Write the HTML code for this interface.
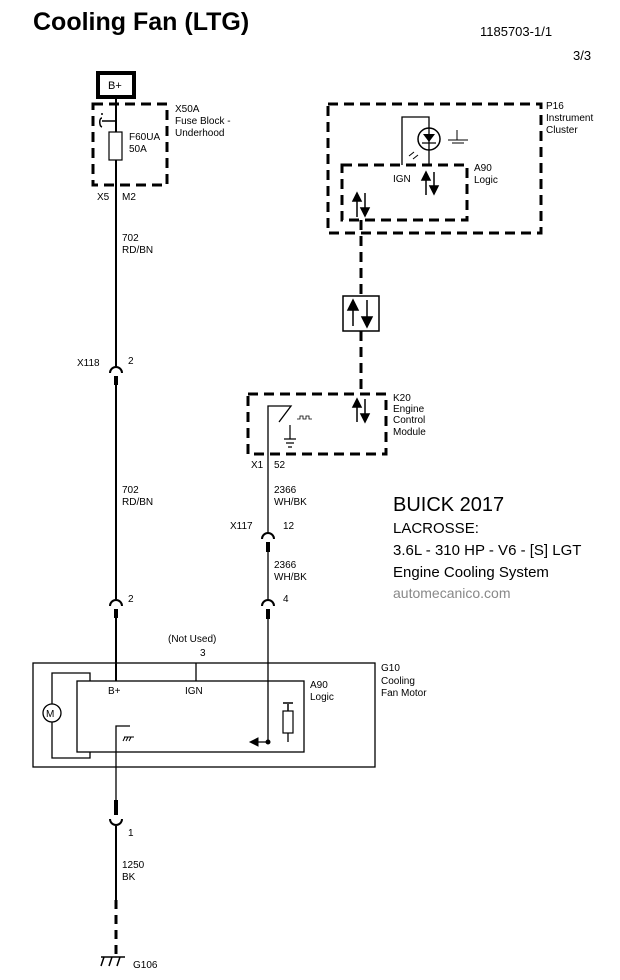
<!DOCTYPE html>
<html><head><meta charset="utf-8"><style>html,body{margin:0;padding:0;background:#fff}svg{display:block}text{font-family:"Liberation Sans",Arial,sans-serif;fill:#000}</style></head><body>
<svg width="620" height="980" viewBox="0 0 620 980" xmlns="http://www.w3.org/2000/svg">
<defs><marker id="ah" markerWidth="8" markerHeight="8" refX="4" refY="4" orient="auto"><path d="M0,0L8,4L0,8z"/></marker></defs>
<text x="33" y="30" font-size="25" font-weight="bold">Cooling Fan (LTG)</text>
<text x="480" y="36" font-size="13">1185703-1/1</text>
<text x="573" y="60" font-size="13">3/3</text>
<g fill="none" stroke="#000">
<rect x="98" y="73" width="36" height="24" stroke-width="4"/>
<rect x="93" y="104" width="74" height="81" stroke-width="3" stroke-dasharray="10,6"/>
<line x1="116" y1="97" x2="116" y2="367" stroke-width="2"/>
<rect x="109" y="132" width="13" height="28" fill="#fff" stroke-width="1.2"/>
<path d="M116,121H102M102,115v-2M102,118c-3,0-3,8,0,9" stroke-width="1.5"/>
<path d="M110,373a6,6 0 0 1 12,0" stroke-width="2"/>
<line x1="116" y1="376" x2="116" y2="600" stroke-width="2"/>
<line x1="116" y1="376" x2="116" y2="385" stroke-width="4"/>
<path d="M110,606a6,6 0 0 1 12,0" stroke-width="2"/>
<line x1="116" y1="609" x2="116" y2="681" stroke-width="2"/>
<line x1="116" y1="609" x2="116" y2="618" stroke-width="4"/>
<rect x="33" y="663" width="342" height="104" stroke-width="1.3"/>
<rect x="77" y="681" width="227" height="71" stroke-width="1.3"/>
<circle cx="52" cy="713" r="9" stroke-width="1.3"/>
<path d="M52,704V673H90V681M52,722V758H90V752" stroke-width="1.3"/>
<line x1="196" y1="663" x2="196" y2="681" stroke-width="1.3"/>
<path d="M116,800V726H130" stroke-width="1.3"/>
<path d="M124,737h10M125,737l-2,4M128,737l-2,4M131,737l-2,4" stroke-width="1"/>
<line x1="116" y1="800" x2="116" y2="815" stroke-width="4"/>
<path d="M110,819a6,6 0 0 0 12,0" stroke-width="2"/>
<line x1="116" y1="826" x2="116" y2="900" stroke-width="2"/>
<line x1="116" y1="900" x2="116" y2="955" stroke-width="3" stroke-dasharray="9,6"/>
<path d="M101,957h24M104,957l-3,9M112,957l-3,9M120,957l-3,9" stroke-width="1.5"/>
<rect x="248" y="394" width="138" height="60" stroke-width="3" stroke-dasharray="10,6"/>
<path d="M268,533V406H291L279,422" stroke-width="1.3"/>
<path d="M290,425v14M284,439h12M286,443h8M288,447h4" stroke-width="1.2"/>
<path d="M297,419h3v-3h3v3h3v-3h3v3h3" stroke-width="0.8"/>
<path d="M262,539a6,6 0 0 1 12,0" stroke-width="2"/>
<line x1="268" y1="542" x2="268" y2="600" stroke-width="1.3"/>
<line x1="268" y1="542" x2="268" y2="552" stroke-width="4"/>
<path d="M262,606a6,6 0 0 1 12,0" stroke-width="2"/>
<line x1="268" y1="609" x2="268" y2="742" stroke-width="1.3"/>
<line x1="268" y1="609" x2="268" y2="619" stroke-width="4"/>
<path d="M268,742H258M288,742V733" stroke-width="1.3"/>
<path d="M258,738L250,742L258,746z" fill="#000"/>
<circle cx="268" cy="742" r="2" fill="#000"/>
<rect x="283" y="711" width="10" height="22" stroke-width="1.2"/>
<path d="M288,711V704M283,703h10" stroke-width="1.5"/>
<rect x="328" y="104" width="213" height="129" stroke-width="3" stroke-dasharray="10,6"/>
<rect x="342" y="165" width="125" height="55" stroke-width="3" stroke-dasharray="10,6"/>
<path d="M402,165V117H429V165" stroke-width="1.3"/>
<circle cx="429" cy="139" r="11" stroke-width="1.5" fill="#fff"/>
<path d="M423,134h12l-6,8z" fill="#000" stroke="none"/>
<path d="M422,143h14M429,128V150" stroke-width="1.3"/>
<path d="M414,152l-5,4M418,155l-5,4" stroke-width="1"/>
<path d="M448,140h20M452,143h12M457,130v10h4" stroke-width="1"/>
<line x1="361" y1="220" x2="361" y2="296" stroke-width="3" stroke-dasharray="10,6"/>
<line x1="361" y1="331" x2="361" y2="394" stroke-width="3" stroke-dasharray="10,6"/>
<rect x="343" y="296" width="36" height="35" stroke-width="1.5"/>
</g>
<g stroke="#000" stroke-width="1.5" fill="#000">
<line x1="353" y1="305" x2="353" y2="326"/><path d="M348,310L353,300L358,310z"/>
<line x1="367" y1="300" x2="367" y2="320"/><path d="M362,317L367,327L372,317z"/>
<line x1="426" y1="178" x2="426" y2="195"/><path d="M422,180L426,172L430,180z"/>
<line x1="434" y1="172" x2="434" y2="188"/><path d="M430,186L434,194L438,186z"/>
<line x1="357" y1="199" x2="357" y2="217"/><path d="M353,201L357,193L361,201z"/>
<line x1="365" y1="193" x2="365" y2="210"/><path d="M361,208L365,216L369,208z"/>
<line x1="357" y1="405" x2="357" y2="422"/><path d="M353,407L357,399L361,407z"/>
<line x1="365" y1="399" x2="365" y2="416"/><path d="M361,414L365,422L369,414z"/>
</g>
<g font-size="10">
<text x="108" y="89" font-size="11">B+</text>
<text x="175" y="112">X50A</text><text x="175" y="124">Fuse Block -</text><text x="175" y="136">Underhood</text>
<text x="129" y="140">F60UA</text><text x="129" y="152">50A</text>
<text x="97" y="200">X5</text><text x="122" y="200">M2</text>
<text x="122" y="241">702</text><text x="122" y="253">RD/BN</text>
<text x="77" y="366">X118</text><text x="128" y="364">2</text>
<text x="122" y="493">702</text><text x="122" y="505">RD/BN</text>
<text x="128" y="602">2</text>
<text x="168" y="642">(Not Used)</text><text x="200" y="656">3</text>
<text x="108" y="694">B+</text><text x="185" y="694">IGN</text>
<text x="310" y="688">A90</text><text x="310" y="700">Logic</text>
<text x="381" y="671">G10</text><text x="381" y="684">Cooling</text><text x="381" y="696">Fan Motor</text>
<text x="46" y="717">M</text>
<text x="128" y="836">1</text>
<text x="122" y="868">1250</text><text x="122" y="880">BK</text>
<text x="133" y="968">G106</text>
<text x="251" y="468">X1</text><text x="274" y="468">52</text>
<text x="274" y="493">2366</text><text x="274" y="505">WH/BK</text>
<text x="230" y="529">X117</text><text x="283" y="529">12</text>
<text x="274" y="568">2366</text><text x="274" y="580">WH/BK</text>
<text x="283" y="602">4</text>
<text x="393" y="401">K20</text><text x="393" y="412">Engine</text><text x="393" y="423">Control</text><text x="393" y="435">Module</text>
<text x="546" y="109">P16</text><text x="546" y="121">Instrument</text><text x="546" y="133">Cluster</text>
<text x="474" y="171">A90</text><text x="474" y="183">Logic</text>
<text x="393" y="182">IGN</text>
</g>
<text x="393" y="511" font-size="20">BUICK 2017</text>
<text x="393" y="533" font-size="15">LACROSSE:</text>
<text x="393" y="555" font-size="15">3.6L - 310 HP - V6 - [S] LGT</text>
<text x="393" y="577" font-size="15">Engine Cooling System</text>
<text x="393" y="598" font-size="14" style="fill:#888">automecanico.com</text>
</svg>
</body></html>
